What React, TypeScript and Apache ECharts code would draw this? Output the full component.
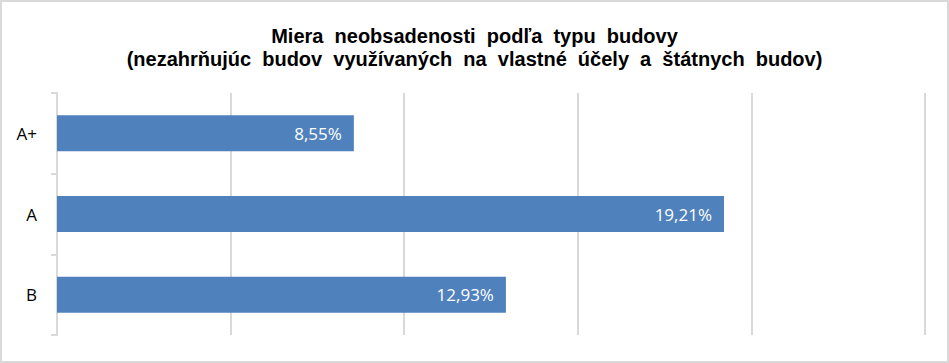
import React, { useEffect, useRef } from "react";
import * as echarts from "echarts";

const titleText = "Miera  neobsadenosti  podľa  typu  budovy\n(nezahrňujúc  budov  využívaných  na  vlastné  účely  a  štátnych  budov)";
const categories = ["A+", "A", "B"];
const values = [8.55, 19.21, 12.93];
const axisMin = 0;
const axisMax = 25;
const axisInterval = 5;

export default function App() {
  const ref = useRef<HTMLDivElement>(null);
  useEffect(() => {
    document.body.style.margin = "0";
    const chart = echarts.init(ref.current!, null, { renderer: "svg" });
    chart.setOption({
      animation: false,
      backgroundColor: "#ffffff",
      title: {
        text: titleText,
        left: "center",
        top: 19,
        textStyle: {
          fontFamily: "Liberation Sans",
          fontWeight: "bold",
          fontSize: 20,
          lineHeight: 23,
          color: "#000000",
        },
      },
      graphic: [
        {
          type: "rect",
          shape: { x: 1, y: 1, width: 947, height: 361 },
          style: { fill: "none", stroke: "#d9d9d9", lineWidth: 2 },
          silent: true,
        },
      ],
      grid: { left: 57, right: 24, top: 93, bottom: 28, containLabel: false },
      xAxis: {
        type: "value",
        min: axisMin,
        max: axisMax,
        interval: axisInterval,
        axisLabel: { show: false },
        axisLine: { show: false },
        axisTick: { show: false },
        splitLine: { show: true, lineStyle: { color: "#d9d9d9", width: 2 } },
      },
      yAxis: {
        type: "category",
        data: categories,
        inverse: true,
        axisLine: { show: true, lineStyle: { color: "#d9d9d9", width: 2 } },
        axisTick: { show: true, length: 6, lineStyle: { color: "#d9d9d9", width: 2 } },
        axisLabel: {
          margin: 20,
          fontFamily: "Open Sans",
          fontSize: 17,
          color: "#000000",
        },
      },
      series: [
        {
          type: "bar",
          data: values,
          barWidth: 36,
          itemStyle: { color: "#4f81bd" },
          label: {
            show: true,
            position: "insideRight",
            distance: 12,
            fontFamily: "Open Sans",
            fontSize: 17,
            color: "#ffffff",
            formatter: (p: any) => p.value.toFixed(2).replace(".", ",") + "%",
          },
        },
      ],
    });
    return () => chart.dispose();
  }, []);
  return <div ref={ref} style={{ width: 949, height: 363 }} />;
}
